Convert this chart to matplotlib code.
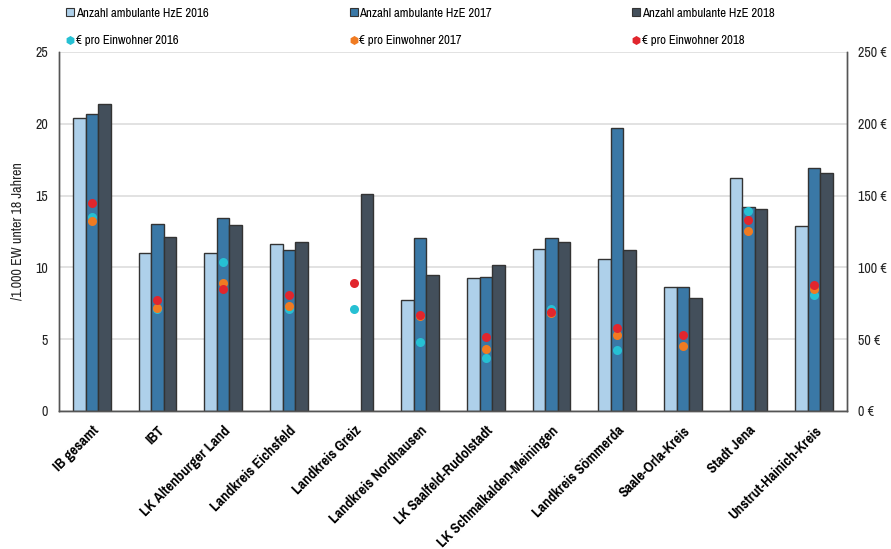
import numpy as np
import matplotlib
matplotlib.use("Agg")
import matplotlib.pyplot as plt
from matplotlib.lines import Line2D

plt.rcParams['font.family'] = ['Pragati Narrow', 'Liberation Sans', 'DejaVu Sans']

# data
regions = ["IB gesamt", "IBT", "LK Altenburger Land", "Landkreis Eichsfeld",
           "Landkreis Greiz", "Landkreis Nordhausen", "LK Saalfeld-Rudolstadt",
           "LK Schmalkalden-Meiningen", "Landkreis Sömmerda", "Saale-Orla-Kreis",
           "Stadt Jena", "Unstrut-Hainich-Kreis"]
hze_2016 = [20.4, 11.0, 11.0, 11.6, np.nan, 7.75, 9.25, 11.3, 10.6, 8.65, 16.2, 12.85]
hze_2017 = [20.7, 13.05, 13.45, 11.2, np.nan, 12.05, 9.35, 12.05, 19.7, 8.65, 14.2, 16.9]
hze_2018 = [21.4, 12.15, 12.95, 11.75, 15.1, 9.5, 10.2, 11.75, 11.2, 7.85, 14.05, 16.6]
eur_2016 = [135, 71, 104, 71, 71, 48, 37, 71, 42.5, np.nan, 139, 81]
eur_2017 = [132, 71.5, 89, 73, np.nan, 66, 43, 68, 53, 45.5, 125, 85]
eur_2018 = [144.5, 77.5, 85, 81, 89, 67, 51.5, 69, 58, 53, 133, 88]

bar_colors = ["#aed0ea", "#3a78a6", "#434f5b"]
dot_colors = ["#26c0d3", "#f07b22", "#e1262d"]
bar_labels = ["Anzahl ambulante HzE 2016", "Anzahl ambulante HzE 2017", "Anzahl ambulante HzE 2018"]
dot_labels = ["€ pro Einwohner 2016", "€ pro Einwohner 2017", "€ pro Einwohner 2018"]

fig = plt.figure(figsize=(8.91, 5.49), dpi=100)
ax = fig.add_axes([0.0662, 0.2514, 0.8844, 0.6539])
ax2 = ax.twinx()

x = np.arange(len(regions))
w = 0.19
for i, vals in enumerate([hze_2016, hze_2017, hze_2018]):
    ax.bar(x + (i - 1) * w, vals, w, color=bar_colors[i], edgecolor="#333333",
           linewidth=1.0, zorder=2)

for i, vals in enumerate([eur_2016, eur_2017, eur_2018]):
    ax2.plot(x, vals, linestyle="none", marker="o", markersize=6.5,
             color=dot_colors[i], markeredgewidth=0, zorder=3)

ax.set_xlim(-0.5, len(regions) - 0.5)
ax.set_ylim(0, 25)
ax.set_yticks(np.arange(0, 26, 5))
ax2.set_ylim(0, 250)
ax2.set_yticks(np.arange(0, 251, 50))
ax2.set_yticklabels([f"{v} €" for v in range(0, 251, 50)])

ax.yaxis.grid(True, color="#dddddd", linewidth=1.2, zorder=0)
ax.set_axisbelow(True)
for a in (ax, ax2):
    a.spines['top'].set_visible(False)
    for s in ('left', 'right', 'bottom'):
        a.spines[s].set_color("#555555")
        a.spines[s].set_linewidth(1.0)
    a.tick_params(axis='y', length=0, labelsize=11, colors="#222222", pad=8)

ax.set_xticks(x)
ax.set_xticklabels(regions, rotation=45, ha="right", va="top",
                   rotation_mode="anchor", fontweight="bold", fontsize=11.5)
ax.tick_params(axis='x', length=0, pad=9)

ax.set_ylabel("/1.000 EW unter 18 Jahren", fontsize=11, color="#222222", labelpad=8)

# legend: three columns, bars on top row, dots below
col_x = [0.0705, 0.3885, 0.7055]
for i in range(3):
    handles = [Line2D([], [], linestyle="none", marker="s", markersize=5.5,
                      markerfacecolor=bar_colors[i], markeredgecolor="#333333",
                      markeredgewidth=0.8),
               Line2D([], [], linestyle="none", marker="h", markersize=6.5,
                      color=dot_colors[i], markeredgewidth=0)]
    fig.legend(handles, [bar_labels[i], dot_labels[i]], loc="upper left",
               bbox_to_anchor=(col_x[i], 0.994), frameon=False, fontsize=10,
               handlelength=0.5, handletextpad=0.15, labelspacing=1.12,
               borderpad=0.3, borderaxespad=0)

fig.savefig("out.png", dpi=100)
